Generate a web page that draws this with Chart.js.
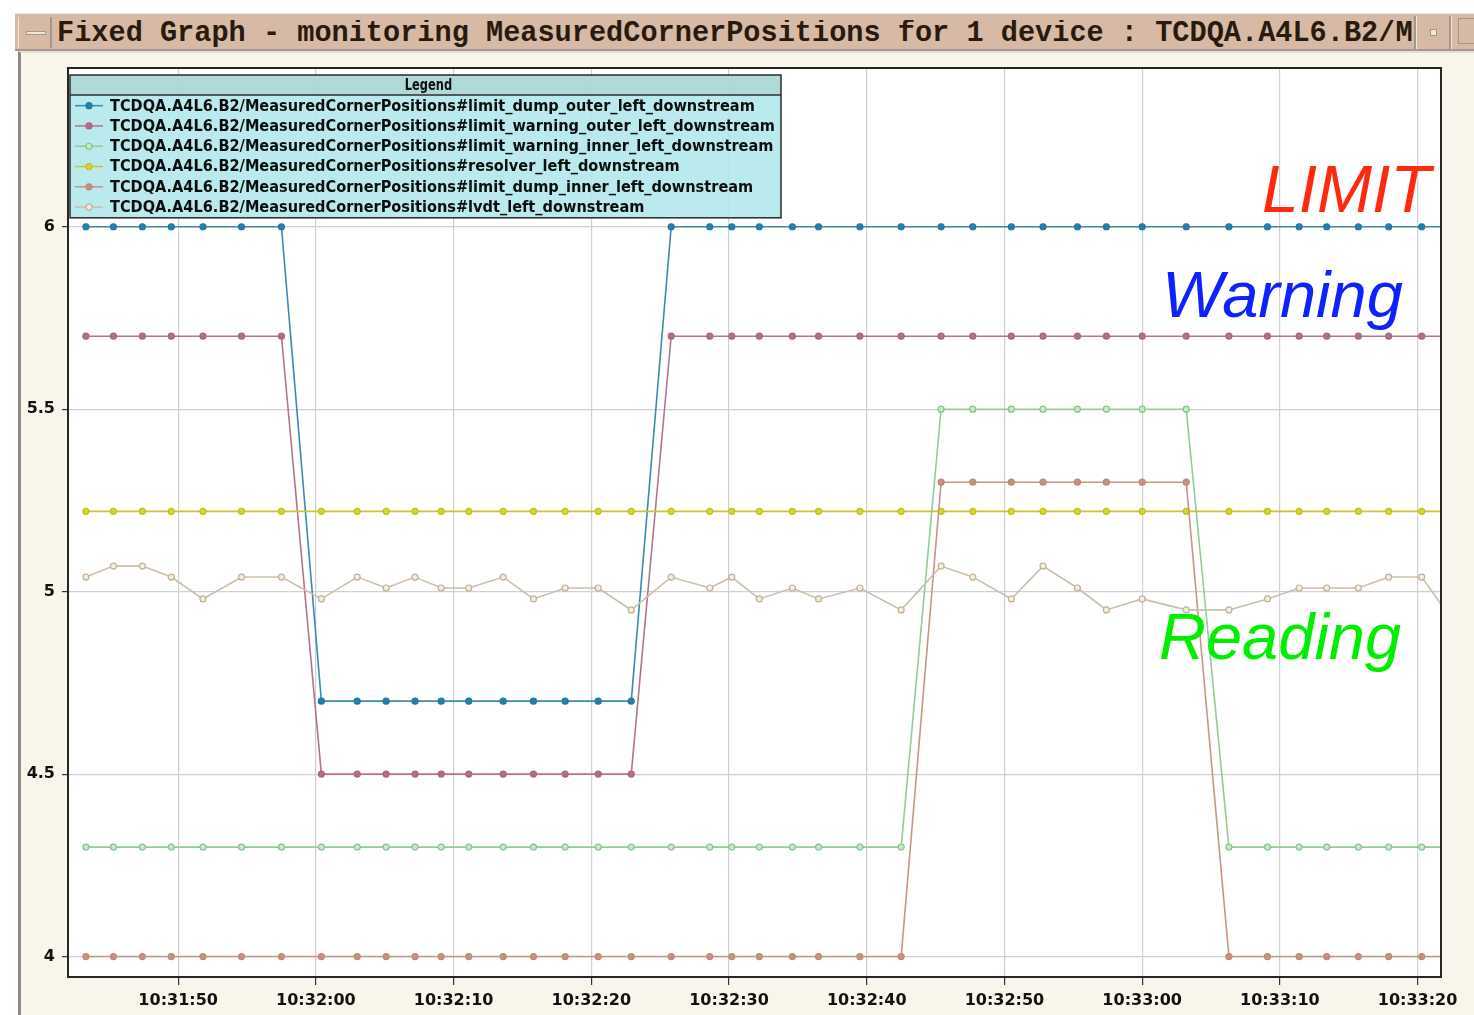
<!DOCTYPE html>
<html>
<head>
<meta charset="utf-8">
<script src="https://cdn.jsdelivr.net/npm/chart.js@4/dist/chart.umd.min.js"></script>
<style>
  html, body { margin: 0; padding: 0; background: #ffffff; }
  body { width: 1474px; height: 1015px; position: relative; overflow: hidden; }
  #win {
    position: absolute; left: 18px; top: 51px; width: 1456px; height: 964px;
    background: #f9f5ea; border-left: 3px solid #8e8b86; border-top: 2px solid #e2ded8;
    box-sizing: border-box;
  }
  #titlebar {
    position: absolute; left: 15px; top: 13px; width: 1459px; height: 38px;
    background: #d7baa5; border-top: 1px solid #ebe6e0; border-bottom: 2px solid #a8998c;
    box-sizing: border-box; overflow: hidden;
  }
  #minbtn {
    position: absolute; left: 3px; top: 3px; width: 34px; height: 31px;
    border-right: 2px solid #a5968a; border-left: 1px solid #efe6de; box-sizing: border-box;
  }
  #minbtn::after {
    content: ""; position: absolute; left: 7px; top: 14px; width: 20px; height: 4px;
    background: #efe5dc; border: 1px solid #a89686; box-sizing: border-box;
  }
  #title {
    position: absolute; left: 42px; top: 6px; width: 1358px; overflow: hidden;
    font: bold 28.6px "Liberation Mono", "DejaVu Sans Mono", monospace; line-height: 28.6px;
    color: #2a1a0e; white-space: nowrap;
  }
  #sep1 { position: absolute; left: 1399px; top: 2px; width: 2px; height: 33px; background: #a5968a; border-right: 1px solid #efe6de; }
  #dot { position: absolute; left: 1415px; top: 15px; width: 5px; height: 5px; background: #efe5dc; border: 1px solid #a89686; }
  #sep2 { position: absolute; left: 1434px; top: 2px; width: 2px; height: 33px; background: #a5968a; border-right: 1px solid #efe6de; }
  #maxbtn { position: absolute; left: 1443px; top: 4px; width: 30px; height: 26px; border: 1px solid #a5968a; border-right: none; box-sizing: border-box; }
  #chart { position: absolute; left: 0; top: 0; }
</style>
</head>
<body>
<div id="win"></div>
<div id="titlebar">
  <div id="minbtn"></div>
  <div id="title">Fixed Graph - monitoring MeasuredCornerPositions for 1 device : TCDQA.A4L6.B2/M</div>
  <div id="sep1"></div>
  <div id="dot"></div>
  <div id="sep2"></div>
  <div id="maxbtn"></div>
</div>
<canvas id="chart" width="1474" height="1015"></canvas>
<script>
// Sample timestamps (HH:MM:SS.s)
const times = [
  '10:31:43.3','10:31:45.3','10:31:47.4','10:31:49.5','10:31:51.8','10:31:54.6','10:31:57.5',
  '10:32:00.4','10:32:03.0','10:32:05.1','10:32:07.2','10:32:09.1','10:32:11.1','10:32:13.6',
  '10:32:15.8','10:32:18.1','10:32:20.5','10:32:22.9','10:32:25.8','10:32:28.6','10:32:30.2',
  '10:32:32.2','10:32:34.6','10:32:36.5','10:32:39.5','10:32:42.5','10:32:45.4','10:32:47.7',
  '10:32:50.5','10:32:52.8','10:32:55.3','10:32:57.4','10:33:00.0','10:33:03.2','10:33:06.3',
  '10:33:09.1','10:33:11.4','10:33:13.4','10:33:15.7','10:33:17.9','10:33:20.3','10:33:22.0'
];

const limitDumpOuter = [
  6, 6, 6, 6, 6, 6, 6,
  4.7, 4.7, 4.7, 4.7, 4.7, 4.7, 4.7, 4.7, 4.7, 4.7, 4.7,
  6, 6, 6, 6, 6, 6, 6, 6, 6, 6, 6, 6, 6, 6, 6, 6, 6, 6, 6, 6, 6, 6, 6, 6
];
const limitWarningOuter = [
  5.7, 5.7, 5.7, 5.7, 5.7, 5.7, 5.7,
  4.5, 4.5, 4.5, 4.5, 4.5, 4.5, 4.5, 4.5, 4.5, 4.5, 4.5,
  5.7, 5.7, 5.7, 5.7, 5.7, 5.7, 5.7, 5.7, 5.7, 5.7, 5.7, 5.7, 5.7, 5.7, 5.7, 5.7, 5.7, 5.7, 5.7, 5.7, 5.7, 5.7, 5.7, 5.7
];
const limitWarningInner = [
  4.3, 4.3, 4.3, 4.3, 4.3, 4.3, 4.3, 4.3, 4.3, 4.3, 4.3, 4.3, 4.3, 4.3,
  4.3, 4.3, 4.3, 4.3, 4.3, 4.3, 4.3, 4.3, 4.3, 4.3, 4.3, 4.3,
  5.5, 5.5, 5.5, 5.5, 5.5, 5.5, 5.5, 5.5,
  4.3, 4.3, 4.3, 4.3, 4.3, 4.3, 4.3, 4.3
];
const resolver = [
  5.22, 5.22, 5.22, 5.22, 5.22, 5.22, 5.22, 5.22, 5.22, 5.22, 5.22, 5.22, 5.22, 5.22,
  5.22, 5.22, 5.22, 5.22, 5.22, 5.22, 5.22, 5.22, 5.22, 5.22, 5.22, 5.22, 5.22, 5.22,
  5.22, 5.22, 5.22, 5.22, 5.22, 5.22, 5.22, 5.22, 5.22, 5.22, 5.22, 5.22, 5.22, 5.22
];
const limitDumpInner = [
  4, 4, 4, 4, 4, 4, 4, 4, 4, 4, 4, 4, 4, 4,
  4, 4, 4, 4, 4, 4, 4, 4, 4, 4, 4, 4,
  5.3, 5.3, 5.3, 5.3, 5.3, 5.3, 5.3, 5.3,
  4, 4, 4, 4, 4, 4, 4, 4
];
const lvdt = [
  5.04, 5.07, 5.07, 5.04, 4.98, 5.04, 5.04,
  4.98, 5.04, 5.01, 5.04, 5.01, 5.01, 5.04,
  4.98, 5.01, 5.01, 4.95, 5.04, 5.01, 5.04,
  4.98, 5.01, 4.98, 5.01, 4.95, 5.07, 5.04,
  4.98, 5.07, 5.01, 4.95, 4.98, 4.95, 4.95,
  4.98, 5.01, 5.01, 5.01, 5.04, 5.04, 4.95
];

const seriesNames = [
  'TCDQA.A4L6.B2/MeasuredCornerPositions#limit_dump_outer_left_downstream',
  'TCDQA.A4L6.B2/MeasuredCornerPositions#limit_warning_outer_left_downstream',
  'TCDQA.A4L6.B2/MeasuredCornerPositions#limit_warning_inner_left_downstream',
  'TCDQA.A4L6.B2/MeasuredCornerPositions#resolver_left_downstream',
  'TCDQA.A4L6.B2/MeasuredCornerPositions#limit_dump_inner_left_downstream',
  'TCDQA.A4L6.B2/MeasuredCornerPositions#lvdt_left_downstream'
];

const xTickLabels = ['10:31:50','10:32:00','10:32:10','10:32:20','10:32:30','10:32:40','10:32:50','10:33:00','10:33:10','10:33:20'];
const yTickValues = [4, 4.5, 5, 5.5, 6];
const yTickLabels = ['4', '4.5', '5', '5.5', '6'];
const xRange = ['10:31:42.0', '10:33:21.7'];
const yRange = [3.944, 6.435];

const toSec = s => { const p = s.split(':'); return (+p[0]) * 3600 + (+p[1]) * 60 + parseFloat(p[2]); };
const pts = vals => times.map((t, i) => ({ x: toSec(t), y: vals[i] }));

function series(label, vals, line, point, fill) {
  return {
    label, data: pts(vals),
    borderColor: line, borderWidth: 1.6,
    pointRadius: 3, pointHoverRadius: 3, pointBorderWidth: 1.2,
    pointBorderColor: point, pointBackgroundColor: fill,
    tension: 0, fill: false
  };
}

const datasets = [
  series(seriesNames[5], lvdt, '#cbbfac', '#c4b195', '#f3ede2'),
  series(seriesNames[4], limitDumpInner, '#c39686', '#c0887a', '#c8907e'),
  series(seriesNames[3], resolver, '#c7c62a', '#c4c018', '#d9d52a'),
  series(seriesNames[2], limitWarningInner, '#93cc95', '#86c489', '#c6ebc6'),
  series(seriesNames[1], limitWarningOuter, '#b27490', '#a96584', '#b26d8c'),
  series(seriesNames[0], limitDumpOuter, '#3a8bb0', '#1f77a5', '#2580ad')
];

// White plot background and frame
const plotFrame = {
  id: 'plotFrame',
  beforeDraw(chart) {
    const { ctx, chartArea: a } = chart;
    ctx.save();
    ctx.fillStyle = '#ffffff';
    ctx.fillRect(a.left, a.top, a.right - a.left, a.bottom - a.top);
    ctx.restore();
  },
  afterDraw(chart) {
    const { ctx, chartArea: a } = chart;
    ctx.save();
    ctx.strokeStyle = '#262626';
    ctx.lineWidth = 2;
    ctx.strokeRect(a.left, a.top, a.right - a.left, a.bottom - a.top);
    ctx.restore();
  }
};

// Boxed legend in the upper-left corner of the plot
const boxLegend = {
  id: 'boxLegend',
  afterDraw(chart) {
    const ctx = chart.ctx;
    const bx = 70, by = 75, bw = 711, head = 20, rowH = 20.3;
    const rows = seriesNames.length;
    const bh = head + rows * rowH + 1;
    ctx.save();
    ctx.fillStyle = 'rgba(170, 214, 214, 0.93)';
    ctx.fillRect(bx, by, bw, head);
    ctx.fillStyle = 'rgba(178, 232, 236, 0.9)';
    ctx.fillRect(bx, by + head, bw, bh - head);
    ctx.strokeStyle = '#2b2b2b';
    ctx.lineWidth = 1.5;
    ctx.strokeRect(bx, by, bw, bh);
    ctx.beginPath();
    ctx.moveTo(bx, by + head); ctx.lineTo(bx + bw, by + head);
    ctx.stroke();

    ctx.fillStyle = '#111111';
    ctx.textBaseline = 'middle';
    ctx.textAlign = 'center';
    ctx.font = 'bold 15px "DejaVu Sans Condensed", "DejaVu Sans", sans-serif';
    ctx.save();
    ctx.translate(bx + bw / 2 + 3, by + head / 2 + 1);
    ctx.scale(0.85, 1);
    ctx.fillText('Legend', 0, 0);
    ctx.restore();

    ctx.textAlign = 'left';
    const longest = seriesNames.reduce((m, s) => Math.max(m, ctx.measureText(s).width), 0);
    const sx = 665 / longest;
    const order = chart.data.datasets.slice().reverse();
    order.forEach((ds, i) => {
      const cy = by + head + rowH * (i + 0.5) + 0.5;
      ctx.strokeStyle = ds.borderColor;
      ctx.lineWidth = 1.5;
      ctx.beginPath();
      ctx.moveTo(bx + 5, cy); ctx.lineTo(bx + 33, cy);
      ctx.stroke();
      ctx.beginPath();
      ctx.arc(bx + 19, cy, 3, 0, Math.PI * 2);
      ctx.fillStyle = ds.pointBackgroundColor;
      ctx.fill();
      ctx.strokeStyle = ds.pointBorderColor;
      ctx.lineWidth = 1.2;
      ctx.stroke();
      ctx.fillStyle = '#0d0d0d';
      ctx.save();
      ctx.translate(bx + 40, cy + 1);
      ctx.scale(sx, 1);
      ctx.fillText(ds.label, 0, 0);
      ctx.restore();
    });
    ctx.restore();
  }
};

// Coloured captions on the right side of the plot
const captions = [
  { text: 'LIMIT', color: '#ff2a0c', x: 1262, y: 212, size: 66 },
  { text: 'Warning', color: '#0d22ff', x: 1162, y: 317, size: 65 },
  { text: 'Reading', color: '#00ee00', x: 1159, y: 659, size: 65 }
];
const captionPlugin = {
  id: 'captions',
  afterDraw(chart) {
    const ctx = chart.ctx;
    ctx.save();
    ctx.textAlign = 'left';
    ctx.textBaseline = 'alphabetic';
    captions.forEach(c => {
      ctx.font = `italic ${c.size}px "Liberation Sans", Arial, sans-serif`;
      ctx.fillStyle = c.color;
      ctx.fillText(c.text, c.x, c.y);
    });
    ctx.restore();
  }
};

const tickFont = { family: '"DejaVu Sans", sans-serif', size: 16, weight: 'bold' };

new Chart(document.getElementById('chart'), {
  type: 'line',
  data: { datasets },
  options: {
    responsive: false,
    devicePixelRatio: 1,
    animation: false,
    layout: { padding: { left: 0, top: 68, right: 33, bottom: 0 } },
    plugins: { legend: { display: false }, tooltip: { enabled: false } },
    scales: {
      x: {
        type: 'linear',
        min: toSec(xRange[0]), max: toSec(xRange[1]),
        afterBuildTicks: s => { s.ticks = xTickLabels.map(l => ({ value: toSec(l) })); },
        afterFit: s => { s.height = 38; },
        ticks: {
          autoSkip: false, maxRotation: 0, padding: 6, color: '#111111', font: tickFont,
          callback: (v, i) => xTickLabels[i]
        },
        grid: { color: '#d0d0d0', lineWidth: 1.2, tickColor: '#333333', tickLength: 8 },
        border: { color: '#262626', width: 2 }
      },
      y: {
        type: 'linear',
        min: yRange[0], max: yRange[1],
        afterBuildTicks: s => { s.ticks = yTickValues.map(v => ({ value: v })); },
        afterFit: s => { s.width = 68; },
        ticks: {
          padding: 7, color: '#111111', font: tickFont,
          callback: (v, i) => yTickLabels[i]
        },
        grid: { color: '#d0d0d0', lineWidth: 1.2, tickColor: '#333333', tickLength: 6 },
        border: { color: '#262626', width: 2 }
      }
    }
  },
  plugins: [plotFrame, boxLegend, captionPlugin]
});
</script>
</body>
</html>
